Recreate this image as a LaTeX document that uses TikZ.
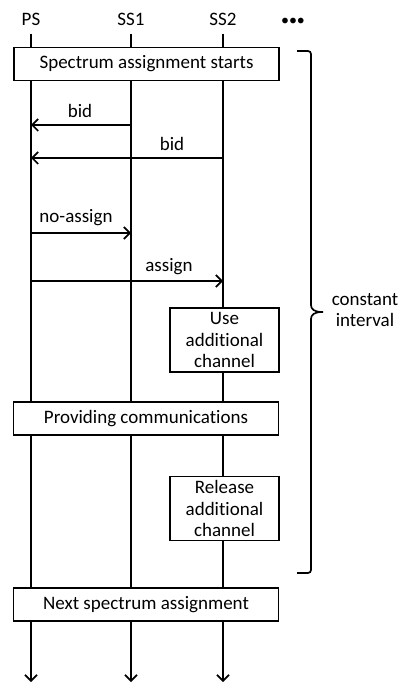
\documentclass[tikz,border=0pt]{standalone}
\usepackage{fontspec}
\setmainfont{Carlito}[Ligatures=NoCommon]
\usetikzlibrary{arrows.meta}
\begin{document}
\begin{tikzpicture}[x=1pt, y=-1pt, line width=1.7pt,
    font=\fontsize{19}{21.5}\selectfont,
    head/.style={text height=12pt, text depth=0pt, inner xsep=2pt, inner ysep=7pt},
    phase/.style={draw, fill=white, minimum width=265pt, minimum height=33pt, inner sep=0pt},
    task/.style={draw, fill=white, minimum width=109pt, minimum height=64pt, inner sep=0pt, align=center},
    msg/.style={-{Straight Barb[length=6pt, width=12pt]}},
    lbl/.style={inner sep=1pt}]
  \useasboundingbox (0,0) rectangle (404,684);

  % Stations
  \node [head] (PS) at (31,20) {PS};
  \node [head] (SS1) at (131,20) {SS1};
  \node [head] (SS2) at (223,20) {SS2};
  \node [head, font=\fontsize{16}{18}\selectfont] (more) at (293,20) {\textbullet\textbullet\textbullet};

  % Lifelines
  \coordinate (bottom) at (0,682);
  \foreach \s in {PS,SS1,SS2}
    \draw [msg] (\s) -- (\s |- bottom);

  % Messages
  \coordinate (m1) at (0,125);
  \coordinate (m2) at (0,158);
  \coordinate (m3) at (0,233);
  \coordinate (m4) at (0,281);
  \draw [msg] (SS1 |- m1) -- (PS |- m1);
  \node [lbl] (bidA) at (80,111) {bid};
  \draw [msg] (SS2 |- m2) -- (PS |- m2);
  \node [lbl] (bidB) at (172,144) {bid};
  \draw [msg] (PS |- m3) -- (SS1 |- m3);
  \node [lbl] (noassign) at (76,218) {no-assign};
  \draw [msg] (PS |- m4) -- (SS2 |- m4);
  \node [lbl] (assign) at (169,267) {assign};

  % Phases
  \node [phase] (start) at (146.5,64) {Spectrum assignment starts};
  \node [task] (use) at (224.5,340) {Use\\additional\\channel};
  \node [phase] (comm) at (146,418.5) {Providing communications};
  \node [task] (release) at (224.5,508.5) {Release\\additional\\channel};
  \node [phase] (next) at (146,604.5) {Next spectrum assignment};

  % Interval brace
  \draw [rounded corners=3pt] (297,51) -- (311,51) -- (311,302)
    .. controls (311,309) and (314,312) .. (325,312)
    .. controls (314,312) and (311,315) .. (311,322) -- (311,573) -- (297,573);
  \node [align=center] (interval) at (365,310) {constant\\interval};
\end{tikzpicture}
\end{document}
